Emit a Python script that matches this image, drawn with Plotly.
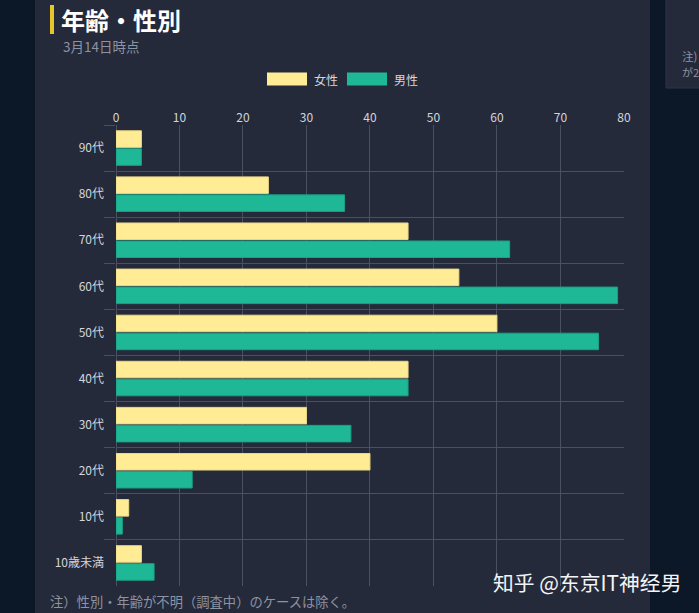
"""
年齢・性別の横棒グラフ (3月14日時点).
"""

import plotly.graph_objects as go

# データ
age_groups = ['90代', '80代', '70代', '60代', '50代', '40代', '30代', '20代', '10代', '10歳未満']
series_names = ['女性', '男性']
female = [4, 24, 46, 54, 60, 46, 30, 40, 2, 4]
male = [4, 36, 62, 79, 76, 46, 37, 12, 1, 6]
x_ticks = [0, 10, 20, 30, 40, 50, 60, 70, 80]

W, H = 699, 613
L, R, T, B = 116, 75, 125, 27
PW, PH = W - L - R, H - T - B


def px_x(x):
    # ピクセル -> paper座標 (横)
    return (x - L) / PW


def px_y(y):
    # ピクセル -> paper座標 (縦)
    return (H - B - y) / PH


FONT = 'Noto Sans CJK JP'
GRID = '#4b5061'
COLORS = ['#ffec94', '#1fb896']
EDGES = ['#e9d886', '#1aa083']

fig = go.Figure()
for name, values, color, edge in zip(series_names, [female, male], COLORS, EDGES):
    fig.add_trace(go.Bar(
        y=age_groups, x=values, name=name, orientation='h',
        marker=dict(color=color, line=dict(color=edge, width=1)),
    ))

shapes = [
    # メインパネル
    dict(type='rect', xref='paper', yref='paper', layer='below',
         x0=px_x(35), x1=px_x(650), y0=px_y(640), y1=px_y(-20),
         fillcolor='#252a3b', line=dict(width=0)),
    # 右側パネル
    dict(type='rect', xref='paper', yref='paper', layer='below',
         x0=px_x(666), x1=px_x(720), y0=px_y(88), y1=px_y(-20),
         fillcolor='#252a3b', line=dict(color='#2e3446', width=1)),
    # タイトル左の黄色バー
    dict(type='rect', xref='paper', yref='paper',
         x0=px_x(50), x1=px_x(54), y0=px_y(34), y1=px_y(5),
         fillcolor='#e8c42c', line=dict(width=0)),
]

annotations = [
    dict(text='<b>年齢・性別</b>', x=px_x(59), y=px_y(19), xref='paper', yref='paper',
         xanchor='left', yanchor='middle', showarrow=False,
         font=dict(family=FONT, size=24, color='#ffffff')),
    dict(text='3月14日時点', x=px_x(61), y=px_y(46), xref='paper', yref='paper',
         xanchor='left', yanchor='middle', showarrow=False,
         font=dict(family=FONT, size=13.5, color='#8d93a1')),
    dict(text='注）性別・年齢が不明（調査中）のケースは除く。', x=px_x(48), y=px_y(601),
         xref='paper', yref='paper', xanchor='left', yanchor='middle', showarrow=False,
         font=dict(family=FONT, size=13.3, color='#8d93a1')),
    dict(text='注)', x=px_x(680), y=px_y(56), xref='paper', yref='paper',
         xanchor='left', yanchor='middle', showarrow=False,
         font=dict(family=FONT, size=11.5, color='#8d93a1')),
    dict(text='が2', x=px_x(680), y=px_y(72), xref='paper', yref='paper',
         xanchor='left', yanchor='middle', showarrow=False,
         font=dict(family=FONT, size=11, color='#8d93a1')),
    dict(text='知乎 @东京IT神经男', x=px_x(491), y=px_y(582), xref='paper', yref='paper',
         xanchor='left', yanchor='middle', showarrow=False,
         font=dict(family='Noto Sans CJK SC', size=20.8, color='#f4f4f4')),
]

# 凡例 (横長の色見本)
legend_x = [267, 347]
for name, color, lx in zip(series_names, COLORS, legend_x):
    shapes.append(dict(type='rect', xref='paper', yref='paper',
                       x0=px_x(lx), x1=px_x(lx + 40), y0=px_y(85.5), y1=px_y(72.5),
                       fillcolor=color, line=dict(width=0)))
    annotations.append(dict(text=name, x=px_x(lx + 45), y=px_y(79), xref='paper', yref='paper',
                            xanchor='left', yanchor='middle', showarrow=False,
                            font=dict(family=FONT, size=12, color='#d4d6dc')))

fig.update_layout(
    width=W, height=H,
    margin=dict(l=L, r=R, t=T, b=B),
    paper_bgcolor='#0c1828',
    plot_bgcolor='rgba(0,0,0,0)',
    barmode='group',
    bargap=0.22,
    bargroupgap=0.08,
    font=dict(family=FONT, size=12, color='#d4d6dc'),
    showlegend=False,
    shapes=shapes,
    annotations=annotations,
)

fig.update_xaxes(
    side='top', range=[0, 80.01], tickvals=x_ticks,
    showgrid=True, gridcolor=GRID, gridwidth=1,
    zeroline=True, zerolinecolor=GRID, zerolinewidth=1,
    showline=False, ticks='', tickfont=dict(size=12, color='#d4d6dc'),
)
fig.update_yaxes(
    type='category', autorange='reversed', tickson='boundaries',
    showgrid=True, gridcolor=GRID, gridwidth=1,
    ticks='outside', ticklen=11, tickcolor=GRID, tickwidth=1,
    ticklabelstandoff=11,
    showline=False, tickfont=dict(size=12, color='#d4d6dc'),
)

fig.write_html('out.html', config={'displayModeBar': False},
               post_script="document.body.style.margin='0';")
